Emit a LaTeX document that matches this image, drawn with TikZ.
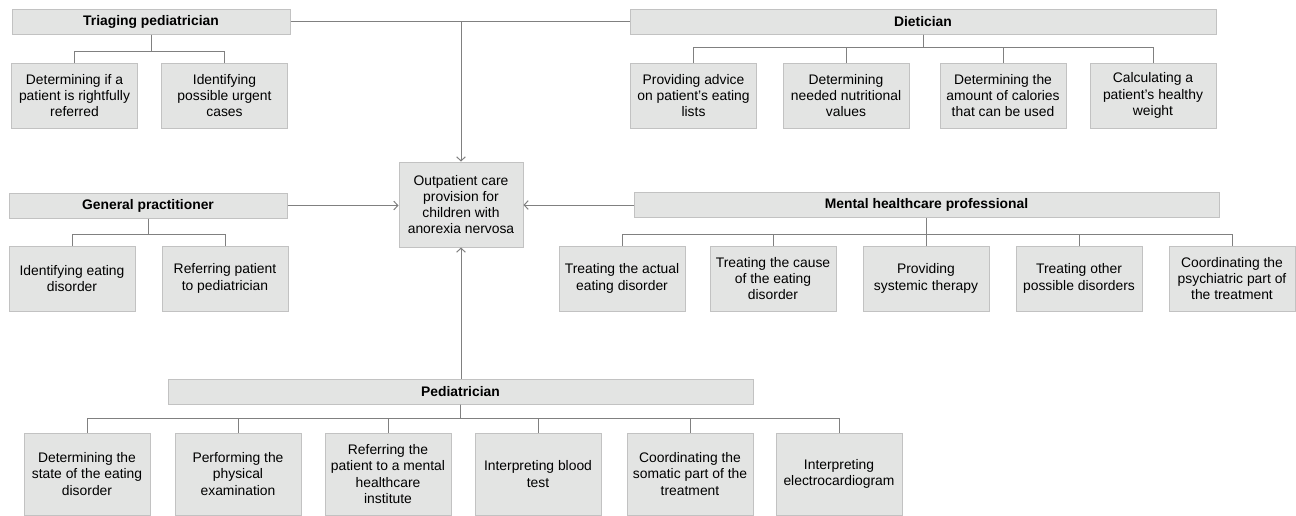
\documentclass[tikz,border=0pt]{standalone}
\usepackage{fontspec}
\setmainfont{Liberation Sans}
\usetikzlibrary{arrows.meta}
\definecolor{boxfill}{HTML}{E3E4E3}
\definecolor{boxline}{HTML}{C2C2C2}
\definecolor{conn}{HTML}{808080}
\tikzset{
  box/.style={draw=boxline, fill=boxfill, line width=0.75pt, inner sep=0pt, align=center,
    font=\fontsize{10.4pt}{12.2pt}\selectfont},
  hdr/.style={box, minimum height=18.75pt, font=\fontsize{10.4pt}{12.2pt}\selectfont\bfseries},
  leaf/.style={box, minimum width=94.5pt, minimum height=48.75pt},
  conn/.style={draw=conn, line width=0.75pt},
  arr/.style={conn, -{Straight Barb[length=3pt,width=6.5pt]}}
}
\begin{document}
\begin{tikzpicture}[x=0.75pt,y=-0.75pt]
\useasboundingbox (0,0) rectangle (1296,515);
% central
\node[box, minimum width=93pt, minimum height=63.75pt] (c) at (461,204.5) {Outpatient care\\provision for\\children with\\anorexia nervosa};
% triaging pediatrician
\node[hdr, minimum width=208.5pt] (tp) at (151,21.5) {Triaging pediatrician};
\node[leaf] (tp1) at (74.5,95.5) {Determining if a\\patient is rightfully\\referred};
\node[leaf] (tp2) at (224.5,95.5) {Identifying\\possible urgent\\cases};
\coordinate (tpb) at (0,51);
% dietician
\node[hdr, minimum width=439.5pt] (di) at (923,21.5) {Dietician};
\node[leaf] (di1) at (693.5,95.5) {Providing advice\\on patient’s eating\\lists};
\node[leaf] (di2) at (846,95.5) {Determining\\needed nutritional\\values};
\node[leaf] (di3) at (1003,95.5) {Determining the\\amount of calories\\that can be used};
\node[leaf] (di4) at (1153,95.5) {Calculating a\\patient’s healthy\\weight};
\coordinate (dib) at (0,47);
% general practitioner
\node[hdr, minimum width=208.5pt] (gp) at (148,205.5) {General practitioner};
\node[leaf] (gp1) at (72,278.5) {Identifying eating\\disorder};
\node[leaf] (gp2) at (225,278.5) {Referring patient\\to pediatrician};
\coordinate (gpb) at (0,234);
% mental healthcare professional
\node[hdr, minimum width=438.75pt] (mh) at (926.5,205) {Mental healthcare professional};
\node[leaf] (mh1) at (622,278.5) {Treating the actual\\eating disorder};
\node[leaf] (mh2) at (773,278.5) {Treating the cause\\of the eating\\disorder};
\node[leaf] (mh3) at (926,278.5) {Providing\\systemic therapy};
\node[leaf] (mh4) at (1079,278.5) {Treating other\\possible disorders};
\node[leaf] (mh5) at (1232,278.5) {Coordinating the\\psychiatric part of\\the treatment};
\coordinate (mhb) at (0,234);
% pediatrician
\node[hdr, minimum width=438.75pt] (pe) at (460.5,391.5) {Pediatrician};
\tikzset{pleaf/.style={leaf, minimum height=61.5pt}}
\node[pleaf] (pe1) at (87,474) {Determining the\\state of the eating\\disorder};
\node[pleaf] (pe2) at (238,474) {Performing the\\physical\\examination};
\node[pleaf] (pe3) at (388,474) {Referring the\\patient to a mental\\healthcare\\institute};
\node[pleaf] (pe4) at (538,474) {Interpreting blood\\test};
\node[pleaf] (pe5) at (690,474) {Coordinating the\\somatic part of the\\treatment};
\node[pleaf] (pe6) at (839,474) {Interpreting\\electrocardiogram};
\coordinate (peb) at (0,418);
% brackets
\foreach \h/\b/\l in {tp/tpb/{tp1,tp2}, di/dib/{di1,di2,di3,di4}, gp/gpb/{gp1,gp2}, mh/mhb/{mh1,mh2,mh3,mh4,mh5}, pe/peb/{pe1,pe2,pe3,pe4,pe5,pe6}}{
  \foreach \k in \l {
    \draw[conn] (\h.south) -- (\h.south |- \b) -| (\k.north);
  }
}
% connections to central node
\draw[conn] (tp.east) -- (di.west);
\coordinate (top) at (c.north |- tp.east);
\draw[arr] (top) -- (c.north);
\draw[arr] (gp.east) -- (gp.east -| c.west);
\draw[arr] (mh.west) -- (mh.west -| c.east);
\draw[arr] (pe.north -| c.south) -- (c.south);
\end{tikzpicture}
\end{document}
